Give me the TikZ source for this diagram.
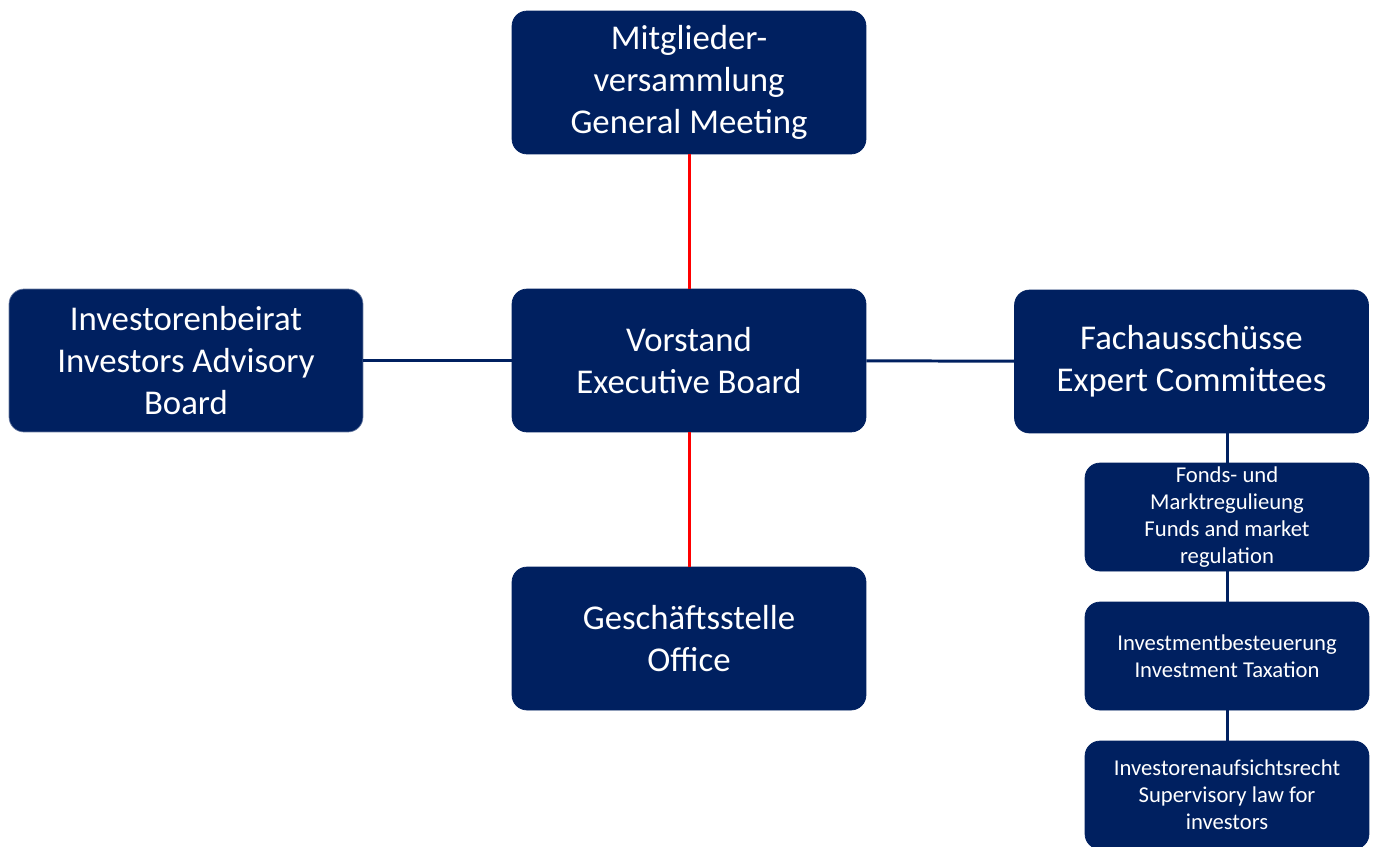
\documentclass[tikz,border=0pt]{standalone}
\usepackage{fontspec}
\setmainfont{Carlito}
\usepackage{xcolor}
\definecolor{navy}{HTML}{002060}
\definecolor{linkred}{HTML}{FF0000}

\begin{document}
\begin{tikzpicture}[x=0.02cm, y=-0.02cm]
    \tikzset{box/.style={fill=navy, draw=navy, rounded corners=0.3cm, text=white, align=center,
                         minimum width=7.08cm, minimum height=2.86cm, inner sep=0pt,
                         font=\fontsize{19.8}{23.7}\selectfont},
             smallbox/.style={box, minimum width=5.68cm, minimum height=2.16cm,
                              font=\fontsize{12.9}{15.3}\selectfont},
             link/.style={navy, line width=1.7pt},
             redlink/.style={linkred, line width=1.7pt}}
    \useasboundingbox (0, 0) rectangle (1375, 846);
    \begin{scope}
        \clip (0, 0) rectangle (1375, 846);
        \node[box] (meeting) at (689, 82.5) {Mitglieder-\\versammlung\\General Meeting};
        \node[box, draw=navy!60] (advisory) at (186, 360.5) {Investorenbeirat\\Investors Advisory\\Board};
        \node[box] (board) at (689, 360.5) {Vorstand\\Executive Board};
        \node[box] (committees) at (1191.5, 361.5) {Fachausschüsse\\Expert Committees};
        \node[box] (office) at (689, 638.5) {Geschäftsstelle\\Office};
        \node[smallbox] (funds) at (1227, 517) {Fonds- und\\Marktregulieung\\Funds and market\\regulation};
        \node[smallbox] (tax) at (1227, 656) {Investmentbesteuerung\\Investment Taxation};
        \node[smallbox] (supervision) at (1227, 795) {Investorenaufsichtsrecht\\Supervisory law for\\investors};
    \end{scope}
    % connectors
    \draw[redlink] (meeting) -- (board);
    \draw[redlink] (board) -- (office);
    \draw[link] (advisory) -- (board);
    \draw[link] (board) -- (committees);
    \draw[link] (committees.south -| funds.north) -- (funds.north);
    \draw[link] (funds) -- (tax);
    \draw[link] (tax) -- (supervision);
\end{tikzpicture}
\end{document}
